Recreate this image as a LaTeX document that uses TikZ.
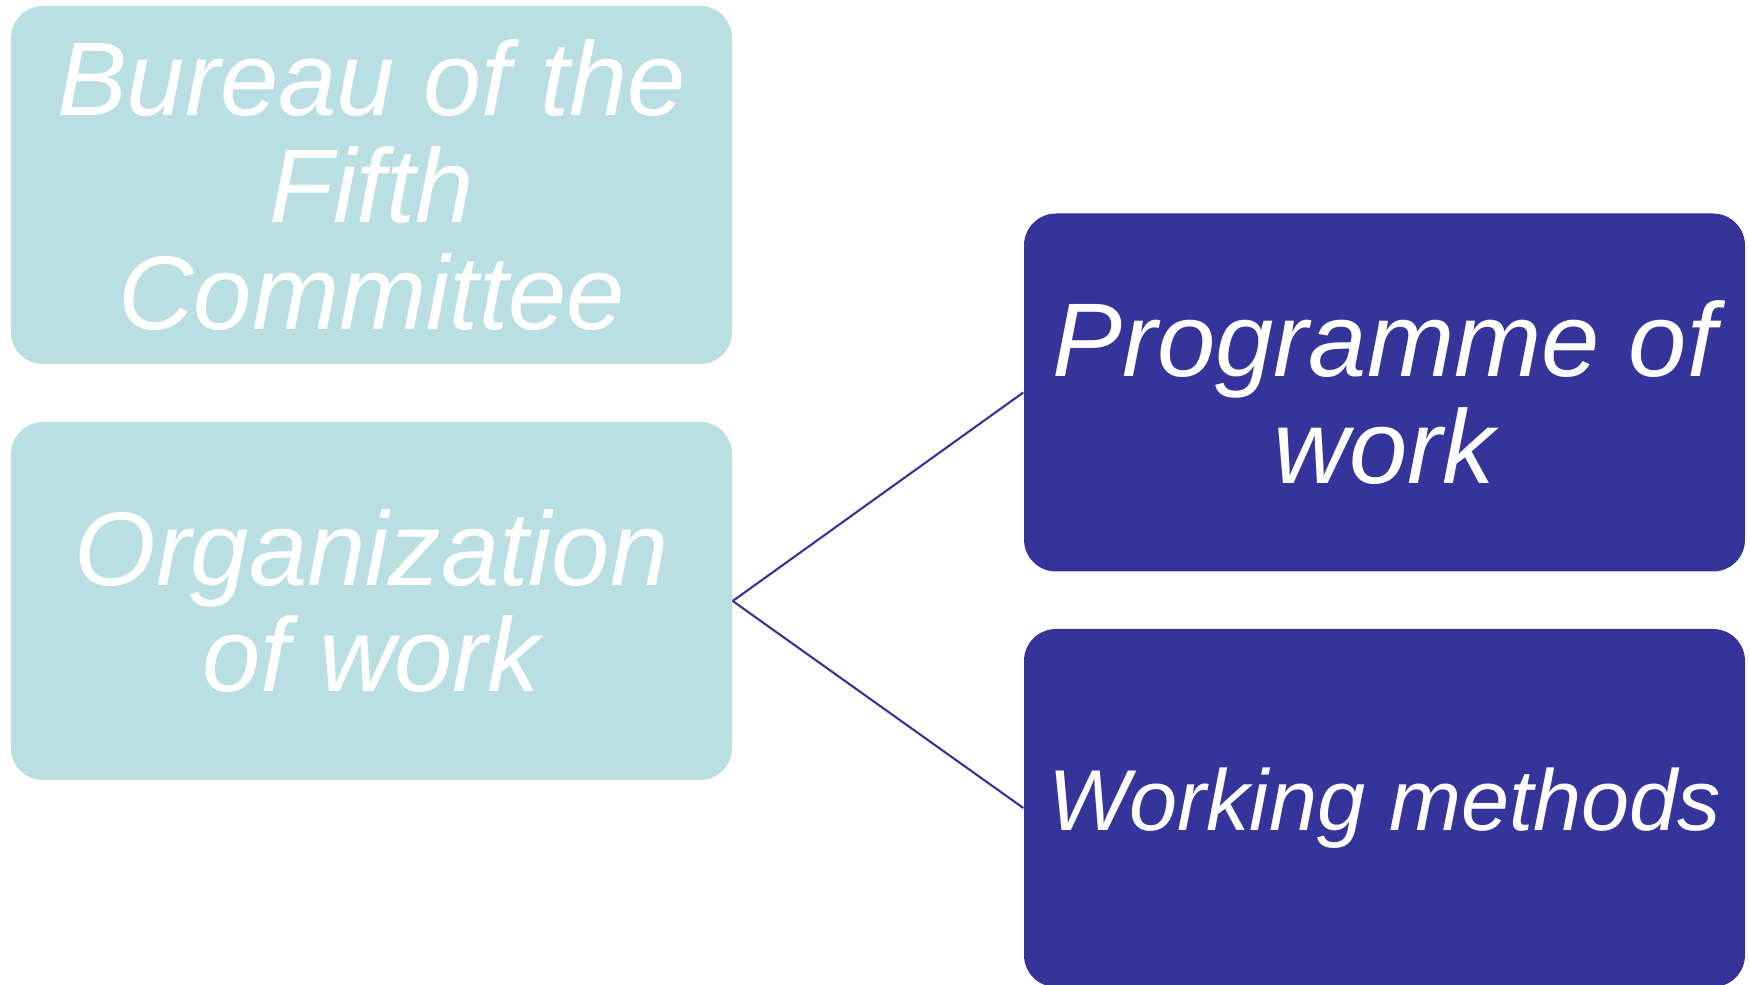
\documentclass[tikz,border=0pt]{standalone}
\usepackage{fontspec}
\setmainfont{Liberation Sans}
\usetikzlibrary{positioning}

\definecolor{paleteal}{HTML}{B9DFE2}
\definecolor{deepblue}{HTML}{35349A}

\begin{document}
\begin{tikzpicture}
  [block/.style={rectangle, rounded corners=0.32cm, inner sep=0pt,
  minimum width=7.21cm, minimum height=3.58cm, align=center,
  text=white, font=\fontsize{29.8pt}{30.4pt}\selectfont\itshape},
  light/.style={block, fill=paleteal},
  dark/.style={block, fill=deepblue},
  line/.style={draw=deepblue, line width=0.6pt}]

  \useasboundingbox (0,0) rectangle (17.49,9.84);

  \node [light] (bureau) at (3.715,7.99) {Bureau of the\\Fifth\\Committee};
  \node [light] (org) at (3.715,3.83) {Organization\\of work};
  \node [dark] (prog) at (13.845,5.915) {Programme of\\work};
  \node [dark, font=\fontsize{24.6pt}{27pt}\selectfont\itshape] (methods)
    at (13.845,1.76) {Working methods};

  \begin{scope}[every path/.style=line]
    \path (org.east) -- (prog.west);
    \path (org.east) -- (methods.west);
  \end{scope}
\end{tikzpicture}
\end{document}
